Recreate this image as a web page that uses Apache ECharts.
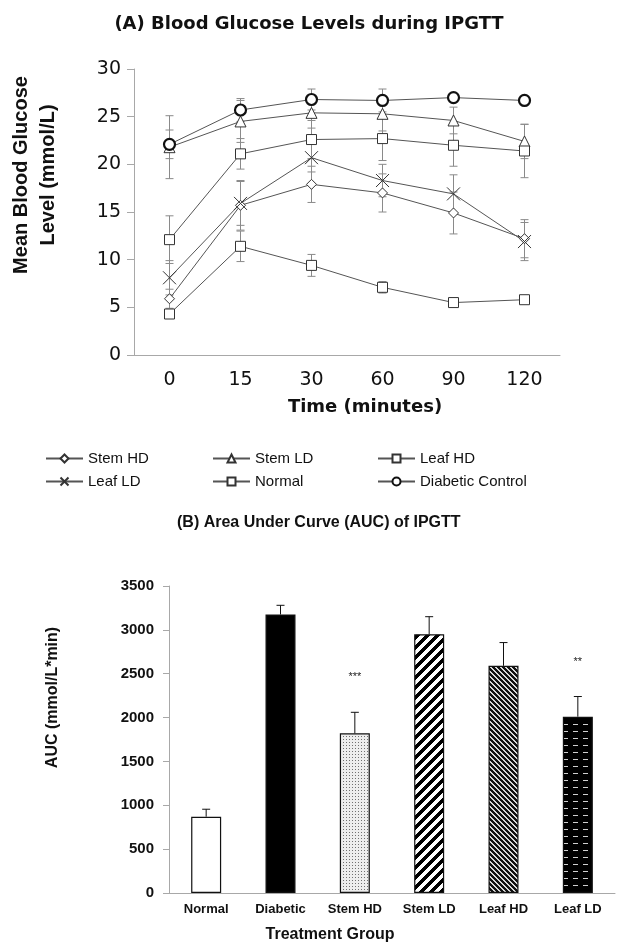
<!DOCTYPE html>
<html>
<head>
<meta charset="UTF-8">
<title>IPGTT</title>
<script src="https://cdn.jsdelivr.net/npm/echarts@6/dist/echarts.min.js"></script>
<style>html,body{margin:0;background:#fff}#main{width:618px;height:945px}</style>
</head>
<body>
<div id="main"></div>
<script type="text/javascript">
// (A) IPGTT time course, mmol/L
var times = ['0', '15', '30', '60', '90', '120'];
var stemHD = [5.9, 15.7, 17.9, 17.0, 14.9, 12.2];
var stemHDErr = [1.0, 2.6, 1.9, 2.0, 2.2, 2.0];
var stemLD = [21.8, 24.5, 25.4, 25.3, 24.6, 22.4];
var stemLDErr = [3.3, 2.2, 1.6, 1.8, 1.4, 1.8];
var leafHD = [12.1, 21.1, 22.6, 22.7, 22.0, 21.4];
var leafHDErr = [2.5, 1.6, 2.0, 2.3, 2.2, 2.8];
var leafLD = [8.1, 15.9, 20.7, 18.3, 16.9, 11.9];
var leafLDErr = [1.8, 2.3, 1.5, 1.7, 2.0, 2.0];
var normal = [4.3, 11.4, 9.4, 7.1, 5.5, 5.8];
var normalErr = [0.3, 1.6, 1.15, 0.6, 0.2, 0.2];
var diabetic = [22.1, 25.7, 26.8, 26.7, 27.0, 26.7];
var diabeticErr = [1.5, 1.2, 1.1, 1.2, 0.4, 0.3];

// (B) AUC, mmol/L*min
var groups = ['Normal', 'Diabetic', 'Stem HD', 'Stem LD', 'Leaf HD', 'Leaf LD'];
var auc = [870, 3175, 1820, 2950, 2590, 2010];
var aucErr = [85, 105, 240, 200, 265, 230];
var aucSig = ['', '', '***', '', '', '**'];

function tile(w, h, draw) {
	var c = document.createElement('canvas');
	c.width = w; c.height = h;
	draw(c.getContext('2d'), w, h);
	return {image: c, repeat: 'repeat'};
}
function pixels(w, h, test, on, off) {
	return tile(w, h, function(g) {
		for (var x = 0; x < w; x++) {
			for (var y = 0; y < h; y++) {
				g.fillStyle = test(x, y) ? on : off;
				g.fillRect(x, y, 1, 1);
			}
		}
	});
}
var dots = tile(3, 3, function(g) {
	g.fillStyle = '#ededed'; g.fillRect(0, 0, 3, 3);
	g.fillStyle = '#707070'; g.fillRect(1, 1, 1, 1);
});
var wideStripe = pixels(10, 10, function(x, y) { return (x + y) % 10 < 5; }, '#000', '#fff');
var fineStripe = pixels(5, 5, function(x, y) { return (x - y + 5) % 5 < 3; }, '#111', '#d8d8d8');
var dashes = tile(10, 7, function(g) {
	g.fillStyle = '#000'; g.fillRect(0, 0, 10, 7);
	g.fillStyle = '#d0d0d0'; g.fillRect(3, 3, 5, 1);
});
var barFills = ['#fff', '#000', dots, wideStripe, fineStripe, dashes];

var lineSets = [
	{name: 'Stem HD', v: stemHD, e: stemHDErr, symbol: 'diamond', size: 10},
	{name: 'Stem LD', v: stemLD, e: stemLDErr, symbol: 'triangle', size: 11},
	{name: 'Leaf HD', v: leafHD, e: leafHDErr, symbol: 'rect', size: 10},
	{name: 'Leaf LD', v: leafLD, e: leafLDErr, symbol: 'path://M0,0L10,10M10,0L0,10', size: 13},
	{name: 'Normal', v: normal, e: normalErr, symbol: 'rect', size: 10},
	{name: 'Diabetic Control', v: diabetic, e: diabeticErr, symbol: 'circle', size: 11}
];

var errA = [];
var series = [];
lineSets.forEach(function(s) {
	var dc = s.name === 'Diabetic Control';
	series.push({
		name: s.name,
		type: 'line',
		xAxisIndex: 0,
		yAxisIndex: 0,
		data: s.v,
		symbol: s.symbol,
		symbolSize: s.size,
		lineStyle: {color: '#555', width: 1},
		itemStyle: {color: '#fff', borderColor: dc ? '#111' : '#333', borderWidth: dc ? 2.2 : 1},
		z: 3
	});
	s.v.forEach(function(v, i) { errA.push([i, v, s.e[i]]); });
});

series.push({
	type: 'custom',
	xAxisIndex: 0,
	yAxisIndex: 0,
	data: errA,
	encode: {x: 0, y: 1},
	z: 2,
	renderItem: function(params, api) {
		var i = api.value(0), v = api.value(1), e = api.value(2);
		var hi = api.coord([i, v + e]), lo = api.coord([i, v - e]);
		var st = {stroke: '#8a8a8a', lineWidth: 1};
		return {type: 'group', children: [
			{type: 'line', shape: {x1: hi[0], y1: hi[1], x2: lo[0], y2: lo[1]}, style: st},
			{type: 'line', shape: {x1: hi[0] - 4, y1: hi[1], x2: hi[0] + 4, y2: hi[1]}, style: st},
			{type: 'line', shape: {x1: lo[0] - 4, y1: lo[1], x2: lo[0] + 4, y2: lo[1]}, style: st}
		]};
	}
});

series.push({
	type: 'bar',
	xAxisIndex: 1,
	yAxisIndex: 1,
	barWidth: 30,
	data: auc.map(function(v, i) { return {value: v, itemStyle: {color: barFills[i]}}; }),
	itemStyle: {borderColor: '#111', borderWidth: 1.2}
});

series.push({
	type: 'custom',
	xAxisIndex: 1,
	yAxisIndex: 1,
	data: auc.map(function(v, i) { return [i, v, aucErr[i]]; }),
	encode: {x: 0, y: 1},
	z: 4,
	renderItem: function(params, api) {
		var i = api.value(0), v = api.value(1), e = api.value(2);
		var base = api.coord([i, v]), hi = api.coord([i, v + e]);
		var st = {stroke: '#111', lineWidth: 1};
		return {type: 'group', children: [
			{type: 'line', shape: {x1: base[0], y1: base[1], x2: hi[0], y2: hi[1]}, style: st},
			{type: 'line', shape: {x1: hi[0] - 4, y1: hi[1], x2: hi[0] + 4, y2: hi[1]}, style: st},
			{type: 'text', x: hi[0], y: hi[1] - 35, style: {
				text: aucSig[params.dataIndex], fill: '#222', font: '11px Liberation Sans',
				align: 'center', verticalAlign: 'middle'
			}}
		]};
	}
});

var axisGrey = {color: '#a8a8a8', width: 1};
var legendBase = {
	orient: 'vertical', top: 446, itemGap: 8, itemWidth: 37, itemHeight: 10,
	selectedMode: false,
	textStyle: {fontFamily: 'Liberation Sans', fontSize: 15, color: '#111'}
};

var myChart = echarts.init(document.getElementById('main'));
myChart.setOption({
	animation: false,
	backgroundColor: '#fff',
	title: [{
		text: '(A) Blood Glucose Levels during IPGTT',
		left: 'center', top: 10,
		textStyle: {fontFamily: 'DejaVu Sans', fontWeight: 'bold', fontSize: 18, color: '#111'}
	}, {
		text: '(B) Area Under Curve (AUC) of IPGTT',
		left: 172, top: 510,
		textStyle: {fontFamily: 'Liberation Sans', fontWeight: 'bold', fontSize: 16, color: '#111'}
	}],
	legend: [
		Object.assign({left: 40, data: ['Stem HD', 'Leaf LD']}, legendBase),
		Object.assign({left: 207, data: ['Stem LD', 'Normal']}, legendBase),
		Object.assign({left: 372, data: ['Leaf HD', 'Diabetic Control']}, legendBase)
	],
	grid: [
		{left: 130, top: 69, width: 430, height: 286},
		{left: 169, top: 586, width: 446, height: 307}
	],
	xAxis: [{
		gridIndex: 0,
		type: 'category',
		data: times,
		axisLine: {lineStyle: axisGrey},
		axisTick: {length: 6, lineStyle: axisGrey},
		axisLabel: {color: '#111', fontFamily: 'DejaVu Sans', fontSize: 19, margin: 16},
		name: 'Time (minutes)',
		nameLocation: 'middle',
		nameGap: 43,
		nameTextStyle: {color: '#111', fontFamily: 'DejaVu Sans', fontWeight: 'bold', fontSize: 18, padding: [0, 0, 0, 36]}
	}, {
		gridIndex: 1,
		type: 'category',
		data: groups,
		axisLine: {lineStyle: axisGrey},
		axisTick: {length: 5, lineStyle: axisGrey},
		axisLabel: {color: '#111', fontFamily: 'Liberation Sans', fontWeight: 'bold', fontSize: 13, margin: 10},
		name: 'Treatment Group',
		nameLocation: 'middle',
		nameGap: 34,
		nameTextStyle: {color: '#111', fontFamily: 'Liberation Sans', fontWeight: 'bold', fontSize: 16, padding: [0, 124, 0, 0]}
	}],
	yAxis: [{
		gridIndex: 0,
		type: 'value',
		min: 0, max: 30, interval: 5,
		splitLine: {show: false},
		axisLine: {show: true, lineStyle: axisGrey},
		axisTick: {show: true, length: 7, lineStyle: axisGrey},
		axisLabel: {color: '#111', fontFamily: 'DejaVu Sans', fontSize: 19, margin: 13},
		name: 'Mean Blood Glucose\nLevel (mmol/L)',
		nameLocation: 'middle',
		nameGap: 72,
		nameTextStyle: {color: '#111', fontFamily: 'Liberation Sans', fontWeight: 'bold', fontSize: 20, lineHeight: 27, padding: [0, 0, 0, 74]}
	}, {
		gridIndex: 1,
		type: 'value',
		min: 0, max: 3500, interval: 500,
		splitLine: {show: false},
		axisLine: {show: true, lineStyle: axisGrey},
		axisTick: {show: true, length: 6, lineStyle: axisGrey},
		axisLabel: {color: '#111', fontFamily: 'Liberation Sans', fontWeight: 'bold', fontSize: 15, margin: 15,
			formatter: function(v) { return String(v); }},
		name: 'AUC (mmol/L*min)',
		nameLocation: 'middle',
		nameGap: 108,
		nameTextStyle: {color: '#111', fontFamily: 'Liberation Sans', fontWeight: 'bold', fontSize: 16, padding: [0, 0, 0, 84]}
	}],
	series: series
});
</script>
</body>
</html>
